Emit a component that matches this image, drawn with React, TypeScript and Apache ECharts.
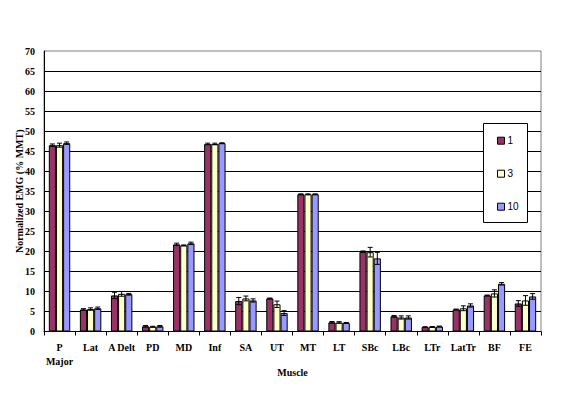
import React, { useEffect, useRef } from "react";
import * as echarts from "echarts";

const categories = ["P\nMajor", "Lat", "A Delt", "PD", "MD", "Inf", "SA", "UT", "MT", "LT", "SBc", "LBc", "LTr", "LatTr", "BF", "FE"];
const seriesNames = ["1", "3", "10"];
const values1 = [46.5, 5.5, 9.0, 1.3, 21.75, 46.8, 7.6, 8.25, 34.25, 2.3, 19.9, 3.8, 1.1, 5.5, 9.0, 7.0];
const values3 = [46.5, 5.6, 9.4, 1.2, 21.5, 46.8, 8.25, 6.8, 34.25, 2.25, 19.8, 3.5, 1.15, 5.8, 9.5, 7.75];
const values10 = [47.0, 5.8, 9.3, 1.3, 22.0, 47.0, 7.75, 4.6, 34.25, 2.15, 18.25, 3.5, 1.25, 6.5, 11.9, 8.75];
const errors1 = [0.3, 0.2, 0.8, 0.2, 0.3, 0.2, 0.9, 0.1, 0.1, 0.2, 0.2, 0.2, 0.1, 0.1, 0.1, 0.7];
const errors3 = [0.5, 0.3, 0.6, 0.1, 0.1, 0.2, 0.6, 0.8, 0.1, 0.2, 1.2, 0.4, 0.1, 0.6, 0.9, 1.2];
const errors10 = [0.3, 0.3, 0.2, 0.2, 0.3, 0.1, 0.4, 0.6, 0.1, 0.1, 1.5, 0.4, 0.1, 0.4, 0.3, 0.7];
const colors = ["#993366", "#FFFFCC", "#9999FF"];

const CAT_GAP = 0.31;
const SERIF = "'Liberation Serif', 'Times New Roman', serif";

export default function App() {
  const ref = useRef<HTMLDivElement>(null);
  useEffect(() => {
    if (!ref.current) return;
    const chart = echarts.init(ref.current, undefined, { renderer: "svg" });
    const vals = [values1, values3, values10];
    const errs = [errors1, errors3, errors10];

    const barSeries = seriesNames.map((name, s) => ({
      name,
      type: "bar",
      data: vals[s],
      barGap: "0%",
      barCategoryGap: CAT_GAP * 100 + "%",
      itemStyle: { color: colors[s], borderColor: "#000", borderWidth: 1 },
      z: 2,
    }));

    const errSeries = seriesNames.map((name, s) => ({
      name: "err" + name,
      type: "custom",
      z: 3,
      encode: { x: 0, y: 1 },
      data: vals[s].map((v, i) => [i, v, errs[s][i]]),
      renderItem: (params: any, api: any) => {
        const idx = api.value(0);
        const v = api.value(1);
        const e = api.value(2);
        const band = api.size([1, 0])[0];
        const bw = (band * (1 - CAT_GAP)) / 3;
        const c = api.coord([idx, v]);
        const x = c[0] + (s - 1) * bw;
        const yTop = api.coord([idx, v + e])[1];
        const yBot = api.coord([idx, v - e])[1];
        const hw = 2.5;
        const st = { stroke: "#000", lineWidth: 1, fill: null };
        return {
          type: "group",
          children: [
            { type: "line", shape: { x1: x, y1: yTop, x2: x, y2: yBot }, style: st },
            { type: "line", shape: { x1: x - hw, y1: yTop, x2: x + hw, y2: yTop }, style: st },
            { type: "line", shape: { x1: x - hw, y1: yBot, x2: x + hw, y2: yBot }, style: st },
          ],
        };
      },
    }));

    chart.setOption({
      animation: false,
      backgroundColor: "#fff",
      grid: {
        left: 44,
        right: 35,
        top: 51,
        bottom: 61.5,
        outerBoundsMode: "none",
        containLabel: false,
        show: true,
        borderColor: "#808080",
        borderWidth: 1,
        backgroundColor: "transparent",
      },
      legend: {
        data: seriesNames,
        orient: "vertical",
        left: 497,
        top: 134.7,
        padding: 0,
        itemGap: 21,
        itemWidth: 7,
        itemHeight: 7,
        icon: "rect",
        itemStyle: { borderColor: "#000", borderWidth: 1 },
        textStyle: { fontSize: 10, color: "#000", fontFamily: "'Liberation Sans', Arial, sans-serif", lineHeight: 12, padding: [0, 0, 0, -2] },
        z: 10,
      },
      graphic: [
        {
          type: "rect",
          z: 5,
          shape: { x: 483.5, y: 123.5, width: 44, height: 99 },
          style: { fill: "#fff", stroke: "#000", lineWidth: 1 },
        },
      ],
      xAxis: {
        type: "category",
        data: categories,
        name: "Muscle",
        nameLocation: "middle",
        nameGap: 36,
        nameMoveOverlap: false,
        nameTextStyle: { fontFamily: SERIF, fontWeight: "bold", fontSize: 10, color: "#000" },
        axisLine: { lineStyle: { color: "#000", width: 1 } },
        axisTick: { show: true, length: 4, lineStyle: { color: "#000" } },
        axisLabel: { interval: 0, fontFamily: SERIF, fontWeight: "bold", fontSize: 10, color: "#000", margin: 9, lineHeight: 14 },
      },
      yAxis: {
        type: "value",
        min: 0,
        max: 70,
        interval: 5,
        name: "Normalized EMG (% MMT)",
        nameLocation: "middle",
        nameGap: 20,
        nameMoveOverlap: false,
        nameTextStyle: { fontFamily: SERIF, fontWeight: "bold", fontSize: 10, color: "#000" },
        axisLine: { show: true, lineStyle: { color: "#000", width: 1 } },
        axisTick: { show: false },
        axisLabel: { fontFamily: SERIF, fontWeight: "bold", fontSize: 10, color: "#000", margin: 9 },
        splitLine: { show: true, showMaxLine: false, lineStyle: { color: "#000", width: 1 } },
      },
      series: [...barSeries, ...errSeries],
    });
    return () => chart.dispose();
  }, []);
  return <div ref={ref} style={{ position: "fixed", left: 0, top: 0, width: 576, height: 393 }} />;
}
